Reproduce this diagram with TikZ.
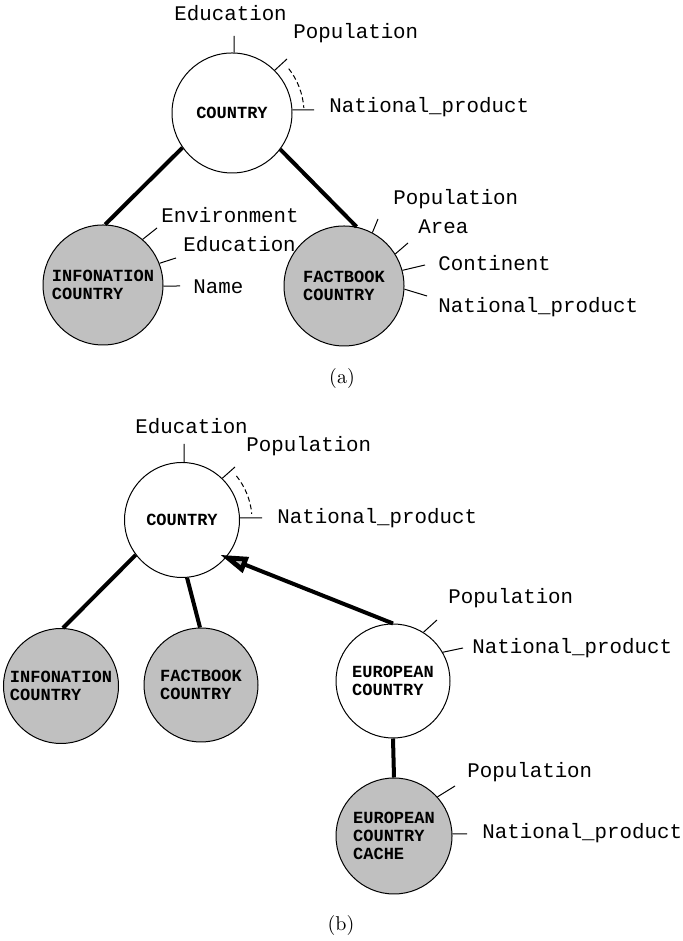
\documentclass[tikz,border=0pt]{standalone}
\usepackage{fontspec}
\setmonofont{Liberation Mono}
\usepackage{tikz}
\usetikzlibrary{arrows.meta}
\definecolor{cachegray}{HTML}{C0C0C0}

\begin{document}
\begin{tikzpicture}[x=0.5pt,y=0.5pt,
  cls/.style={circle,draw,line width=0.5pt,inner sep=0pt,align=left,
    font=\fontsize{8.5}{9}\ttfamily\bfseries},
  src/.style={cls,fill=cachegray},
  attr/.style={anchor=west,inner sep=0pt,font=\fontsize{10.4}{12}\ttfamily},
  tick/.style={line width=0.5pt},
  link/.style={line width=2pt},
  caption/.style={font=\fontsize{10}{12}\rmfamily}]
\useasboundingbox (0,0) rectangle (683,941);

% (a) classes
\node[cls,minimum size=60pt] (cty) at (232,828) {COUNTRY};
\node[src,minimum size=60pt] (ifn) at (103,656) {INFONATION\\COUNTRY};
\node[src,minimum size=60pt] (fbk) at (344,655) {FACTBOOK\\COUNTRY};

\draw[link] (cty.215) -- (ifn.88);
\draw[link] (cty.323) -- (fbk.78);

% (a) attributes of COUNTRY
\node[attr] (ctyedu) at (174,928) {Education};
\node[attr] (ctypop) at (293,908) {Population};
\node[attr] (ctynp) at (329,834) {National\_product};
\coordinate (ctyedut) at (234,905);
\coordinate (ctypopt) at (287,882);
\coordinate (ctynpt) at (314,831);
\draw[tick] (cty.88) -- (ctyedut);
\draw[tick] (cty.45) -- (ctypopt);
\draw[tick] (cty.3) -- (ctynpt);
\draw[tick,dash pattern=on 2.5pt off 1.5pt] (cty) ++(38:72)
  arc[start angle=38,end angle=4,radius=72];

% (a) attributes of INFONATION
\node[attr] (ifnenv) at (161,726) {Environment};
\node[attr] (ifnedu) at (183,697) {Education};
\node[attr] (ifnname) at (193,654) {Name};
\foreach \n/\a/\x/\y in {ifnenvt/49/157/713, ifnedut/21/176/683, ifnnamet/-1/180/655}
  {\coordinate (\n) at (\x,\y);
   \draw[tick] (ifn.\a) -- (\n);}

% (a) attributes of FACTBOOK
\node[attr] (fbkpop) at (393,742) {Population};
\node[attr] (fbkarea) at (418,714) {Area};
\node[attr] (fbkcont) at (438,678) {Continent};
\node[attr] (fbknp) at (438,634) {National\_product};
\foreach \n/\a/\x/\y in {fbkpopt/62/378/722, fbkareat/32/408/698,
    fbkcontt/15/425/676, fbknpt/-3/427/645}
  {\coordinate (\n) at (\x,\y);
   \draw[tick] (fbk.\a) -- (\n);}

\node[caption] (capa) at (342,562) {(a)};

% (b) classes
\node[cls,minimum size=57.5pt] (cty2) at (182,421) {COUNTRY};
\node[src,minimum size=57.5pt] (ifn2) at (61,255) {INFONATION\\COUNTRY};
\node[src,minimum size=57pt] (fbk2) at (201,256) {FACTBOOK\\COUNTRY};
\node[cls,minimum size=57pt] (eur) at (393,260) {EUROPEAN\\COUNTRY};
\node[src,minimum size=58pt] (cache) at (394,105) {EUROPEAN\\COUNTRY\\CACHE};

\draw[link] (cty2.217) -- (ifn2.88);
\draw[link] (cty2.275) -- (fbk2.91);
\draw[link,shorten >=-3.5pt,
  -{Triangle[length=14pt,width=8pt,line width=2.4pt,fill=cachegray]}]
  (eur.90) -- (cty2.320);
\draw[link] (eur.south) -- (cache.north);

% (b) attributes of COUNTRY
\node[attr] (cty2edu) at (135,515) {Education};
\node[attr] (cty2pop) at (246,495) {Population};
\node[attr] (cty2np) at (277,423) {National\_product};
\coordinate (cty2edut) at (184,497);
\coordinate (cty2popt) at (235,474);
\coordinate (cty2npt) at (262,423);
\draw[tick] (cty2.88) -- (cty2edut);
\draw[tick] (cty2.46) -- (cty2popt);
\draw[tick] (cty2.2) -- (cty2npt);
\draw[tick,dash pattern=on 2.5pt off 1.5pt] (cty2) ++(39:70)
  arc[start angle=39,end angle=5,radius=70];

% (b) attributes of EUROPEAN COUNTRY
\node[attr] (eurpop) at (448,343) {Population};
\node[attr] (eurnp) at (472,293) {National\_product};
\coordinate (eurpopt) at (437,321);
\coordinate (eurnpt) at (463,293);
\draw[tick] (eur.58) -- (eurpopt);
\draw[tick] (eur.30) -- (eurnpt);

% (b) attributes of the cache
\node[attr] (cachepop) at (467,169) {Population};
\node[attr] (cachenp) at (482,108) {National\_product};
\coordinate (cachepopt) at (455,155);
\coordinate (cachenpt) at (467,107);
\draw[tick] (cache.42) -- (cachepopt);
\draw[tick] (cache.2) -- (cachenpt);

\node[caption] (capb) at (341,16) {(b)};
\end{tikzpicture}
\end{document}
